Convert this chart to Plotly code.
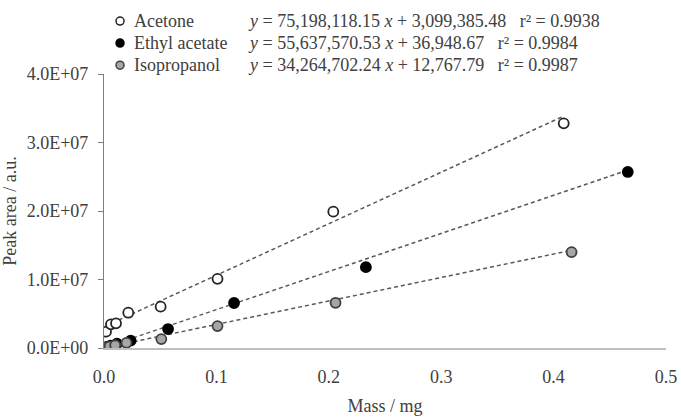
import plotly.graph_objects as go

series_names = ["Acetone", "Ethyl acetate", "Isopropanol"]
acetone_x = [0.0018, 0.0062, 0.0107, 0.0216, 0.0504, 0.101, 0.204, 0.409]
acetone_y = [2.38e6, 3.46e6, 3.60e6, 5.15e6, 6.03e6, 1.01e7, 1.99e7, 3.28e7]
ethyl_x = [0.0023, 0.0058, 0.0115, 0.0237, 0.057, 0.1157, 0.233, 0.466]
ethyl_y = [0.15e6, 0.35e6, 0.65e6, 1.07e6, 2.77e6, 6.57e6, 1.18e7, 2.57e7]
iso_x = [0.002, 0.005, 0.010, 0.020, 0.051, 0.101, 0.206, 0.416]
iso_y = [0.08e6, 0.2e6, 0.4e6, 0.75e6, 1.3e6, 3.2e6, 6.6e6, 1.40e7]
slopes = [75198118.15, 55637570.53, 34264702.24]
intercepts = [3099385.48, 36948.67, 12767.79]
equations = [
    "<i>y</i> = 75,198,118.15 <i>x</i> + 3,099,385.48   r² = 0.9938",
    "<i>y</i> = 55,637,570.53 <i>x</i> + 36,948.67   r² = 0.9984",
    "<i>y</i> = 34,264,702.24 <i>x</i> + 12,767.79   r² = 0.9987",
]
y_tickvals = [0, 1e7, 2e7, 3e7, 4e7]
y_ticktext = ["0.0E+00", "1.0E+07", "2.0E+07", "3.0E+07", "4.0E+07"]
x_tickvals = [0.0, 0.1, 0.2, 0.3, 0.4, 0.5]
x_ticktext = ["0.0", "0.1", "0.2", "0.3", "0.4", "0.5"]

FONT = "Liberation Serif"
TXT = "#404040"
FS = 18
fills = ["white", "black", "#a6a6a6"]
lines_c = ["#262626", "black", "#404040"]

fig = go.Figure()
data = [(acetone_x, acetone_y), (ethyl_x, ethyl_y), (iso_x, iso_y)]
for i, (xs, ys) in enumerate(data):
    x0, x1 = min(xs), max(xs)
    fig.add_trace(go.Scatter(
        x=[x0, x1], y=[slopes[i] * x0 + intercepts[i], slopes[i] * x1 + intercepts[i]],
        mode="lines", line=dict(color="#595959", width=1.5, dash="4px,3px"),
        showlegend=False, hoverinfo="skip"))
for i, (xs, ys) in enumerate(data):
    fig.add_trace(go.Scatter(
        x=xs, y=ys, mode="markers", name=series_names[i],
        marker=dict(size=10, color=fills[i], line=dict(color=lines_c[i], width=1.8)),
        showlegend=False))

# manual legend
row_y = [1.193, 1.113, 1.032]
for i in range(3):
    fig.add_shape(type="circle", xref="paper", yref="paper",
                  xsizemode="pixel", ysizemode="pixel",
                  xanchor=0.0285, yanchor=row_y[i],
                  x0=-4, x1=4, y0=-4, y1=4,
                  fillcolor=fills[i], line=dict(color=lines_c[i], width=1.5))
    fig.add_annotation(xref="paper", yref="paper", x=0.049, y=row_y[i],
                       text=series_names[i], showarrow=False, xanchor="left",
                       yanchor="middle", font=dict(family=FONT, size=FS, color=TXT))
    fig.add_annotation(xref="paper", yref="paper", x=0.252, y=row_y[i],
                       text=equations[i], showarrow=False, xanchor="left",
                       yanchor="middle", font=dict(family=FONT, size=FS, color=TXT))

fig.update_layout(
    width=681, height=418,
    margin=dict(l=104, r=15, t=74, b=70),
    plot_bgcolor="white", paper_bgcolor="white",
    font=dict(family=FONT, size=FS, color=TXT),
    showlegend=False,
    xaxis=dict(range=[0, 0.5], tickvals=x_tickvals, ticktext=x_ticktext,
               showgrid=False, zeroline=False, showline=True, linecolor="#bfbfbf",
               linewidth=1.5, ticks="", ticklen=0, ticklabelstandoff=12,
               automargin=False,
               title=dict(text="Mass / mg", standoff=13,
                          font=dict(family=FONT, size=FS, color=TXT)),
               tickfont=dict(family=FONT, size=FS, color=TXT)),
    yaxis=dict(range=[0, 4e7], tickvals=y_tickvals, ticktext=y_ticktext,
               showgrid=False, zeroline=False, showline=True, linecolor="#7f7f7f",
               linewidth=1.2, ticks="outside", ticklen=5, tickcolor="#7f7f7f",
               ticklabelstandoff=6, automargin=False,
               title=dict(text="Peak area / a.u.", standoff=6,
                          font=dict(family=FONT, size=FS, color=TXT)),
               tickfont=dict(family=FONT, size=FS, color=TXT)),
)

fig.write_html("out.html")
